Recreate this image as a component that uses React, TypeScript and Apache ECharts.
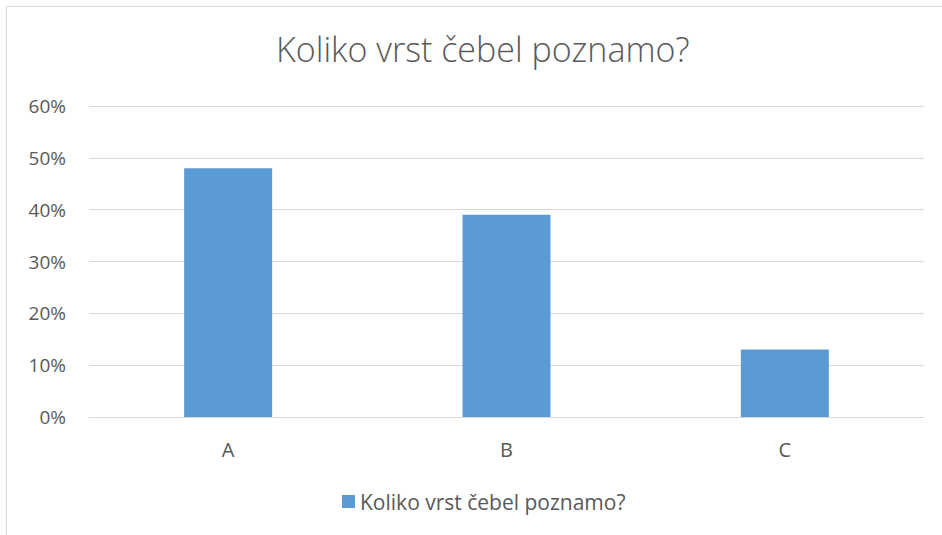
import React, { useEffect, useRef } from "react";
import * as echarts from "echarts";

const categories = ["A", "B", "C"];
const values = [48, 39, 13];
const seriesName = "Koliko vrst čebel poznamo?";
const titleText = "Koliko vrst čebel poznamo?";

export default function App() {
  const ref = useRef<HTMLDivElement>(null);
  useEffect(() => {
    if (!ref.current) return;
    const chart = echarts.init(ref.current, undefined, { renderer: "svg" });
    chart.setOption({
      animation: false,
      backgroundColor: "#ffffff",
      title: {
        text: titleText,
        left: 271,
        top: 27,
        textStyle: {
          fontFamily: "Open Sans",
          fontWeight: 300,
          fontSize: 34,
          color: "#595959",
        },
      },
      graphic: [
        {
          type: "rect",
          shape: { x: 6.5, y: 6.5, width: 1200, height: 1200 },
          style: { fill: "none", stroke: "#d9d9d9", lineWidth: 1 },
          silent: true,
        },
      ],
      legend: {
        bottom: 18,
        left: 337,
        itemWidth: 13,
        itemHeight: 13,
        itemGap: 6,
        icon: "rect",
        textStyle: { fontFamily: "Open Sans", fontSize: 21, color: "#595959" },
        data: [seriesName],
      },
      grid: { left: 89, right: 18, top: 106, bottom: 118, containLabel: false },
      xAxis: {
        type: "category",
        data: categories,
        axisLine: { lineStyle: { color: "#d9d9d9" } },
        axisTick: { show: false },
        axisLabel: { fontFamily: "Open Sans", fontSize: 20, color: "#595959", margin: 22 },
      },
      yAxis: {
        type: "value",
        min: 0,
        max: 60,
        interval: 10,
        axisLine: { show: false },
        axisTick: { show: false },
        splitLine: { lineStyle: { color: "#d9d9d9" } },
        axisLabel: {
          fontFamily: "Open Sans",
          fontSize: 19,
          color: "#595959",
          margin: 23,
          formatter: "{value}%",
        },
      },
      series: [
        {
          name: seriesName,
          type: "bar",
          data: values,
          barWidth: 88,
          itemStyle: { color: "#5b9bd5" },
        },
      ],
    });
    return () => chart.dispose();
  }, []);
  return (
    <div
      ref={ref}
      style={{ position: "fixed", left: 0, top: 0, width: 942, height: 535 }}
    />
  );
}
